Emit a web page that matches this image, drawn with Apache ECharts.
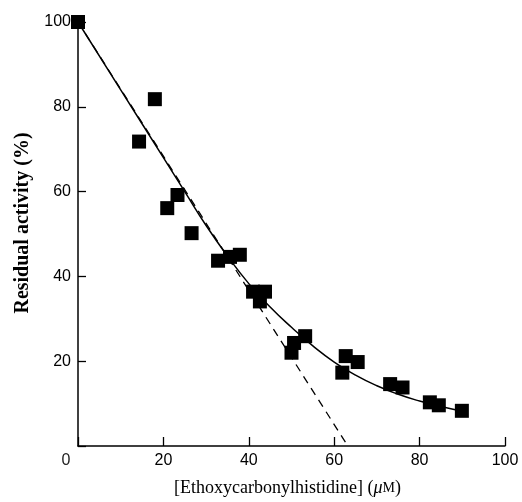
<!DOCTYPE html>
<html>
<head>
<meta charset="utf-8">
<script src="https://cdn.jsdelivr.net/npm/echarts@6/dist/echarts.min.js"></script>
<style>html,body{margin:0;padding:0;background:#fff}#c{width:522px;height:502px}</style>
</head>
<body>
<div id="c"></div>
<script>
// Measured points: concentration (µM) and residual activity (%)
const concX = [0, 14.3, 18.0, 20.9, 23.3, 26.6, 32.8, 35.6, 37.9, 41.0, 43.8, 42.6, 50.0, 50.6, 53.2, 61.9, 62.7, 65.5, 73.1, 76.0, 82.4, 84.5, 89.9];
const activity = [100, 71.8, 81.8, 56.1, 59.2, 50.2, 43.7, 44.6, 45.1, 36.4, 36.4, 34.1, 22.0, 24.3, 25.9, 17.3, 21.2, 19.8, 14.6, 13.8, 10.3, 9.6, 8.3];
// Fitted curve
const curveX = [0, 10, 20, 25, 30, 35, 40, 45, 50, 55, 60, 65, 70, 75, 80, 85, 90];
const curveY = [100, 84, 68, 60, 52, 44.8, 38.3, 32.8, 28.0, 23.6, 19.8, 16.7, 14.2, 12.2, 10.6, 9.3, 8.2];
// Initial-slope (dashed) line
const dashX = [0, 63.2];
const dashY = [100, 0];
const xTicks = [0, 20, 40, 60, 80, 100];
const yTicks = [0, 20, 40, 60, 80, 100];

const zip = (a, b) => a.map((v, i) => [v, b[i]]);
const chart = echarts.init(document.getElementById('c'));
chart.setOption({
  animation: false,
  backgroundColor: '#fff',
  grid: { left: 78, right: 17, top: 22, bottom: 53 },
  xAxis: {
    type: 'value', min: xTicks[0], max: xTicks[xTicks.length - 1], interval: 20,
    splitLine: { show: false },
    axisLine: { lineStyle: { color: '#000', width: 1.5 } },
    axisTick: { inside: true, length: 9, lineStyle: { color: '#000', width: 1.3 } },
    axisLabel: {
      margin: 7, color: '#000', fontSize: 16, fontFamily: 'Liberation Sans',
      formatter: v => v === 0 ? '{z|0}' : String(v),
      rich: { z: { fontSize: 16, color: '#222', padding: [0, 24, 0, 0], fontFamily: 'Liberation Sans' } }
    },
    name: '[Ethoxycarbonylhistidine] ({mu|μ}{m|M})',
    nameLocation: 'middle', nameGap: 33,
    nameTextStyle: {
      fontFamily: 'Liberation Serif', fontSize: 18, color: '#000',
      padding: [0, 8, 0, 0],
      rich: {
        mu: { fontFamily: 'Liberation Serif', fontStyle: 'italic', fontSize: 18, color: '#000' },
        m: { fontFamily: 'Liberation Serif', fontSize: 14, color: '#000' }
      }
    }
  },
  yAxis: {
    type: 'value', min: yTicks[0], max: yTicks[yTicks.length - 1], interval: 20,
    splitLine: { show: false },
    axisLine: { lineStyle: { color: '#000', width: 1.5 } },
    axisTick: { inside: true, length: 8, lineStyle: { color: '#000', width: 1.3 } },
    axisLabel: {
      margin: 7, color: '#000', fontSize: 16, fontFamily: 'Liberation Sans',
      formatter: v => v === 0 ? '' : String(v)
    },
    name: 'Residual activity (%)',
    nameLocation: 'middle', nameGap: 45,
    nameTextStyle: {
      fontFamily: 'Liberation Serif', fontWeight: 'bold', fontSize: 20, color: '#000',
      padding: [0, 0, 0, 22]
    }
  },
  series: [
    {
      type: 'line', data: zip(dashX, dashY), symbol: 'none',
      lineStyle: { color: '#000', width: 1.3, type: [8, 6] }, z: 2
    },
    {
      type: 'line', data: zip(curveX, curveY), symbol: 'none', smooth: true,
      lineStyle: { color: '#000', width: 1.5 }, z: 3
    },
    {
      type: 'scatter', data: zip(concX, activity), symbol: 'rect', symbolSize: 14,
      itemStyle: { color: '#000', opacity: 1, borderRadius: 2 }, z: 4
    }
  ]
});
</script>
</body>
</html>
